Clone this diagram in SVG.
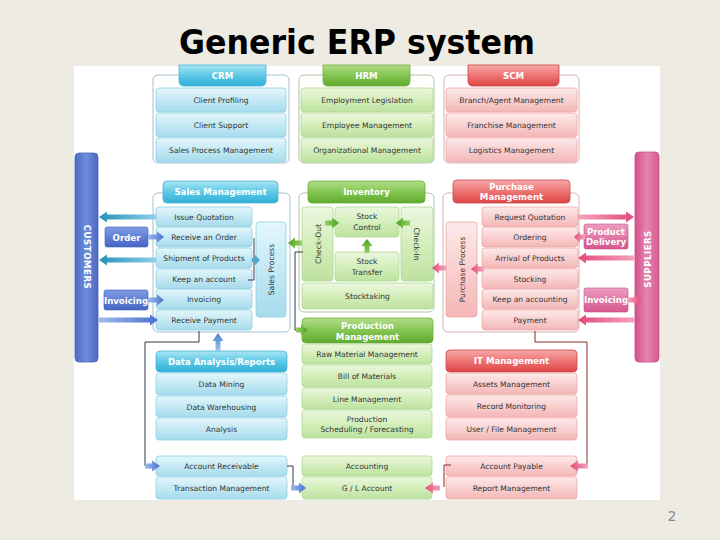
<svg xmlns="http://www.w3.org/2000/svg" width="720" height="540" viewBox="0 0 720 540">
<defs>
<linearGradient id="gbr" x1="0" y1="0" x2="0" y2="1"><stop offset="0" stop-color="#e4f6fb"/><stop offset="0.5" stop-color="#c4e9f4"/><stop offset="1" stop-color="#a6dbec"/></linearGradient>
<linearGradient id="gbt" x1="0" y1="0" x2="0" y2="1"><stop offset="0" stop-color="#a8e6f4"/><stop offset="0.5" stop-color="#5ec8e6"/><stop offset="1" stop-color="#2fb0d8"/></linearGradient>
<linearGradient id="ggr" x1="0" y1="0" x2="0" y2="1"><stop offset="0" stop-color="#ecf7df"/><stop offset="0.5" stop-color="#d4eebb"/><stop offset="1" stop-color="#bde2a0"/></linearGradient>
<linearGradient id="ggt" x1="0" y1="0" x2="0" y2="1"><stop offset="0" stop-color="#b2dd88"/><stop offset="0.5" stop-color="#84c552"/><stop offset="1" stop-color="#5eaa2c"/></linearGradient>
<linearGradient id="grr" x1="0" y1="0" x2="0" y2="1"><stop offset="0" stop-color="#fdeaea"/><stop offset="0.5" stop-color="#f9d0d0"/><stop offset="1" stop-color="#f4b6b6"/></linearGradient>
<linearGradient id="grt" x1="0" y1="0" x2="0" y2="1"><stop offset="0" stop-color="#f8a8a8"/><stop offset="0.5" stop-color="#ee7474"/><stop offset="1" stop-color="#de4444"/></linearGradient>
<linearGradient id="gcus" x1="0" y1="0" x2="1" y2="0"><stop offset="0" stop-color="#4e6cc6"/><stop offset="0.5" stop-color="#6f8edc"/><stop offset="1" stop-color="#4a68c2"/></linearGradient>
<linearGradient id="gord" x1="0" y1="0" x2="0" y2="1"><stop offset="0" stop-color="#7e9ce4"/><stop offset="1" stop-color="#4665c4"/></linearGradient>
<linearGradient id="gsup" x1="0" y1="0" x2="1" y2="0"><stop offset="0" stop-color="#d4508c"/><stop offset="0.5" stop-color="#e684b0"/><stop offset="1" stop-color="#d65a92"/></linearGradient>
<linearGradient id="gpd" x1="0" y1="0" x2="0" y2="1"><stop offset="0" stop-color="#ec9cc0"/><stop offset="1" stop-color="#d4588e"/></linearGradient>
<linearGradient id="gal" x1="0" y1="0" x2="1" y2="0"><stop offset="0" stop-color="#2392ba"/><stop offset="1" stop-color="#8fd0e6"/></linearGradient>
<linearGradient id="gar" x1="0" y1="0" x2="1" y2="0"><stop offset="0" stop-color="#9fb8ec"/><stop offset="1" stop-color="#4a6fd0"/></linearGradient>
<linearGradient id="gau" x1="0" y1="0" x2="0" y2="1"><stop offset="0" stop-color="#4a7fd0"/><stop offset="1" stop-color="#9fc4ec"/></linearGradient>
<linearGradient id="gga" x1="0" y1="0" x2="1" y2="0"><stop offset="0" stop-color="#4da224"/><stop offset="1" stop-color="#94d062"/></linearGradient>
<linearGradient id="ggar" x1="0" y1="0" x2="1" y2="0"><stop offset="0" stop-color="#94d062"/><stop offset="1" stop-color="#4da224"/></linearGradient>
<linearGradient id="ggu" x1="0" y1="0" x2="0" y2="1"><stop offset="0" stop-color="#4da224"/><stop offset="1" stop-color="#94d062"/></linearGradient>
<linearGradient id="gral" x1="0" y1="0" x2="1" y2="0"><stop offset="0" stop-color="#e24a78"/><stop offset="1" stop-color="#f4a4bc"/></linearGradient>
<linearGradient id="grar" x1="0" y1="0" x2="1" y2="0"><stop offset="0" stop-color="#f4a4bc"/><stop offset="1" stop-color="#e24a78"/></linearGradient>
</defs>
<style>
.br{fill:url(#gbr);stroke:#8fd0e4;stroke-width:0.8}
.bt{fill:url(#gbt);stroke:#4cb4d6;stroke-width:0.8}
.gr{fill:url(#ggr);stroke:#b0d994;stroke-width:0.8}
.gt{fill:url(#ggt);stroke:#6aae3a;stroke-width:0.8}
.rr{fill:url(#grr);stroke:#f0a8a8;stroke-width:0.8}
.rt{fill:url(#grt);stroke:#c84444;stroke-width:0.8}
.fb{fill:#fff;stroke:#9ab8c8;stroke-width:0.9}
.fg{fill:#fff;stroke:#a8bc9c;stroke-width:0.9}
.fr{fill:#fff;stroke:#d0a8ac;stroke-width:0.9}
text{font-family:"DejaVu Sans","Liberation Sans",sans-serif}
.t{font-size:7.6px;fill:#333;text-anchor:middle}
.tw{font-size:8.6px;fill:#fff;font-weight:bold;text-anchor:middle}
.ln{fill:none;stroke:#2e3a48;stroke-width:1}
.lr{fill:none;stroke:#8a2a2a;stroke-width:1}
</style>
<rect x="0" y="0" width="720" height="540" fill="#eeebe3"/>
<rect x="74" y="66" width="586" height="434" fill="#ffffff"/>
<text x="357" y="54" font-family="'Open Sans','Liberation Sans',sans-serif" font-size="33" font-weight="600" fill="#000" text-anchor="middle" textLength="356" lengthAdjust="spacingAndGlyphs">Generic ERP system</text>
<text x="672" y="521" font-family="'Open Sans','Liberation Sans',sans-serif" font-size="14" fill="#8a8a8a" text-anchor="middle">2</text>

<!-- side bars -->
<g id="customers">
<rect x="75" y="153" width="23" height="209" rx="4" fill="url(#gcus)" stroke="#4a64b8" stroke-width="0.8"/>
<text class="tw" transform="translate(86.5,257) rotate(90)" y="3" font-size="9" letter-spacing="0.5">CUSTOMERS</text>
</g>
<g id="suppliers">
<rect x="635" y="152" width="24" height="210" rx="4" fill="url(#gsup)" stroke="#c84c84" stroke-width="0.8"/>
<text class="tw" transform="translate(647,259) rotate(-90)" y="3.5" font-size="9.5" letter-spacing="0.5">SUPPLIERS</text>
</g>

<!-- CRM -->
<g id="crm">
<rect class="fb" x="153" y="75" width="136" height="88" rx="5"/>
<path class="bt" d="M179 65 H266 V81 Q266 86 261 86 H184 Q179 86 179 81 Z"/>
<text class="tw" x="222.5" y="79">CRM</text>
<rect class="br" x="156" y="88" width="130" height="24" rx="3"/><text class="t" x="221" y="103">Client Profiling</text>
<rect class="br" x="156" y="113" width="130" height="24" rx="3"/><text class="t" x="221" y="128">Client Support</text>
<rect class="br" x="156" y="138" width="130" height="24" rx="3"/><text class="t" x="221" y="153">Sales Process Management</text>
</g>
<!-- HRM -->
<g id="hrm">
<rect class="fg" x="299" y="75" width="135" height="88" rx="5"/>
<path class="gt" d="M323 65 H410 V81 Q410 86 405 86 H328 Q323 86 323 81 Z"/>
<text class="tw" x="366.5" y="79">HRM</text>
<rect class="gr" x="301" y="88" width="132" height="24" rx="3"/><text class="t" x="367" y="103">Employment Legislation</text>
<rect class="gr" x="301" y="113" width="132" height="24" rx="3"/><text class="t" x="367" y="128">Employee Management</text>
<rect class="gr" x="301" y="138" width="132" height="24" rx="3"/><text class="t" x="367" y="153">Organizational Management</text>
</g>
<!-- SCM -->
<g id="scm">
<rect class="fr" x="444" y="75" width="135" height="88" rx="5"/>
<path class="rt" d="M468 65 H559 V81 Q559 86 554 86 H473 Q468 86 468 81 Z"/>
<text class="tw" x="513.5" y="79">SCM</text>
<rect class="rr" x="446" y="88" width="131" height="24" rx="3"/><text class="t" x="511.5" y="103">Branch/Agent Management</text>
<rect class="rr" x="446" y="113" width="131" height="24" rx="3"/><text class="t" x="511.5" y="128">Franchise Management</text>
<rect class="rr" x="446" y="138" width="131" height="24" rx="3"/><text class="t" x="511.5" y="153">Logistics Management</text>
</g>

<!-- Sales Management -->
<g id="sales">
<rect class="fb" x="153" y="193" width="137" height="139" rx="5"/>
<rect class="bt" x="163" y="181" width="115" height="22" rx="4"/>
<text class="tw" x="220.5" y="195">Sales Management</text>
<rect class="br" x="156" y="207" width="96" height="19.5" rx="3"/><text class="t" x="204" y="219.5">Issue Quotation</text>
<rect class="br" x="156" y="227" width="96" height="20" rx="3"/><text class="t" x="204" y="240">Receive an Order</text>
<rect class="br" x="156" y="248" width="96" height="20" rx="3"/><text class="t" x="204" y="261">Shipment of Products</text>
<rect class="br" x="156" y="269" width="96" height="19.5" rx="3"/><text class="t" x="204" y="281.5">Keep an account</text>
<rect class="br" x="156" y="289" width="96" height="20" rx="3"/><text class="t" x="204" y="302">Invoicing</text>
<rect class="br" x="156" y="310" width="96" height="20" rx="3"/><text class="t" x="204" y="323">Receive Payment</text>
<rect class="br" x="256" y="222" width="30" height="95" rx="3"/>
<text class="t" transform="translate(271,269.5) rotate(-90)" y="3">Sales Process</text>
</g>
<g id="order"><rect x="105" y="227" width="43" height="20" rx="2" fill="url(#gord)" stroke="#4060b8" stroke-width="0.6"/><text class="tw" x="126.5" y="240.5">Order</text></g>
<g id="invoicing-c"><rect x="104" y="290" width="44" height="20" rx="2" fill="url(#gord)" stroke="#4060b8" stroke-width="0.6"/><text class="tw" x="126" y="303.5">Invoicing</text></g>

<!-- Inventory -->
<g id="inventory">
<rect class="fg" x="299" y="193" width="135" height="119" rx="5"/>
<rect class="gt" x="308" y="181" width="117" height="22" rx="4"/>
<text class="tw" x="366.5" y="195">Inventory</text>
<rect class="gr" x="302" y="207" width="31" height="74" rx="3"/>
<text class="t" transform="translate(317.5,244) rotate(-90)" y="3">Check-Out</text>
<rect class="gr" x="335" y="207" width="64" height="30" rx="3"/>
<text class="t" x="367" y="219">Stock</text><text class="t" x="367" y="230">Control</text>
<rect class="gr" x="335" y="252" width="64" height="29" rx="3"/>
<text class="t" x="367" y="264">Stock</text><text class="t" x="367" y="275">Transfer</text>
<rect class="gr" x="401" y="207" width="32" height="74" rx="3"/>
<text class="t" transform="translate(417,244) rotate(90)" y="3">Check-In</text>
<rect class="gr" x="302" y="283" width="131" height="26" rx="3"/>
<text class="t" x="367.5" y="299">Stocktaking</text>
</g>

<!-- Purchase Management -->
<g id="purchase">
<rect class="fr" x="443" y="193" width="136" height="139" rx="5"/>
<rect class="rt" x="453" y="180" width="117" height="23" rx="4"/>
<text class="tw" x="511.5" y="190" font-size="8.2">Purchase</text>
<text class="tw" x="511.5" y="200" font-size="8.2">Management</text>
<rect class="rr" x="446" y="222" width="31" height="95" rx="3"/>
<text class="t" transform="translate(461.5,269.5) rotate(-90)" y="3">Purchase Process</text>
<rect class="rr" x="482" y="207" width="96" height="19.5" rx="3"/><text class="t" x="530" y="219.5">Request Quotation</text>
<rect class="rr" x="482" y="227" width="96" height="20" rx="3"/><text class="t" x="530" y="240">Ordering</text>
<rect class="rr" x="482" y="248" width="96" height="20" rx="3"/><text class="t" x="530" y="261">Arrival of Products</text>
<rect class="rr" x="482" y="269" width="96" height="19.5" rx="3"/><text class="t" x="530" y="281.5">Stocking</text>
<rect class="rr" x="482" y="289" width="96" height="20" rx="3"/><text class="t" x="530" y="302">Keep an accounting</text>
<rect class="rr" x="482" y="310" width="96" height="20" rx="3"/><text class="t" x="530" y="323">Payment</text>
</g>
<g id="product-delivery"><rect x="584" y="224" width="44" height="25" rx="2" fill="url(#gpd)" stroke="#c4508a" stroke-width="0.6"/><text class="tw" x="606" y="234.5" font-size="8">Product</text><text class="tw" x="606" y="245" font-size="8">Delivery</text></g>
<g id="invoicing-s"><rect x="584" y="288" width="44" height="24" rx="2" fill="url(#gpd)" stroke="#c4508a" stroke-width="0.6"/><text class="tw" x="606" y="303" font-size="8">Invoicing</text></g>

<!-- Data Analysis -->
<g id="data-analysis">
<rect class="bt" x="156" y="351" width="131" height="21" rx="4"/>
<text class="tw" x="221.5" y="364.5">Data Analysis/Reports</text>
<rect class="br" x="156" y="373" width="131" height="22" rx="3"/><text class="t" x="221.5" y="387">Data Mining</text>
<rect class="br" x="156" y="396" width="131" height="21" rx="3"/><text class="t" x="221.5" y="409.5">Data Warehousing</text>
<rect class="br" x="156" y="418" width="131" height="22" rx="3"/><text class="t" x="221.5" y="432">Analysis</text>
</g>
<g id="receivable">
<rect class="br" x="156" y="456" width="131" height="20" rx="3"/><text class="t" x="221.5" y="469">Account Receivable</text>
<rect class="br" x="156" y="477" width="131" height="22" rx="3"/><text class="t" x="221.5" y="491">Transaction Management</text>
</g>

<!-- Production -->
<g id="production">
<rect class="gt" x="302" y="318" width="131" height="25" rx="4"/>
<text class="tw" x="367.5" y="329" font-size="8.6">Production</text>
<text class="tw" x="367.5" y="339.5" font-size="8.6">Management</text>
<rect class="gr" x="302" y="344" width="130" height="20" rx="3"/><text class="t" x="367" y="357">Raw Material Management</text>
<rect class="gr" x="302" y="365" width="130" height="22" rx="3"/><text class="t" x="367" y="379">Bill of Materials</text>
<rect class="gr" x="302" y="388" width="130" height="21" rx="3"/><text class="t" x="367" y="401.5">Line Management</text>
<rect class="gr" x="302" y="410" width="130" height="28" rx="3"/>
<text class="t" x="367" y="421.5">Production</text><text class="t" x="367" y="432">Scheduling / Forecasting</text>
</g>
<g id="accounting">
<rect class="gr" x="302" y="456" width="130" height="20" rx="3"/><text class="t" x="367" y="469">Accounting</text>
<rect class="gr" x="302" y="477" width="130" height="22" rx="3"/><text class="t" x="367" y="491">G / L Account</text>
</g>

<!-- IT -->
<g id="it">
<rect class="rt" x="446" y="350" width="131" height="22" rx="4"/>
<text class="tw" x="511.5" y="364">IT Management</text>
<rect class="rr" x="446" y="373" width="131" height="21" rx="3"/><text class="t" x="511.5" y="386.5">Assets Management</text>
<rect class="rr" x="446" y="395" width="131" height="22" rx="3"/><text class="t" x="511.5" y="409">Record Monitoring</text>
<rect class="rr" x="446" y="418" width="131" height="22" rx="3"/><text class="t" x="511.5" y="432">User / File Management</text>
</g>
<g id="payable">
<rect class="rr" x="446" y="456" width="131" height="20" rx="3"/><text class="t" x="511.5" y="469">Account Payable</text>
<rect class="rr" x="446" y="477" width="131" height="22" rx="3"/><text class="t" x="511.5" y="491">Report Management</text>
</g>

<!-- connectors -->
<g id="connectors">
<polyline class="ln" points="248,280 254,280 254,238"/>
<polyline class="ln" points="199,331 199,342 145,342 145,466 150,466"/>
<polyline class="ln" points="287,466 293,466 293,488"/>
<polyline class="ln" points="303,252 295,252 295,330 298,330"/>
<polyline class="lr" points="535,331 535,342 587,342 587,466 582,466"/>
<polyline class="lr" points="451,465 444,465 444,487"/>

<path fill="url(#gal)" d="M156 214.5 H107 V211.5 L99 217 L107 222.5 V219.5 H156 Z"/>
<path fill="url(#gal)" d="M156 257.5 H107 V254.5 L99 260 L107 265.5 V262.5 H156 Z"/>
<path fill="url(#gar)" d="M148 234.5 H157 V231.5 L164 237 L157 242.5 V239.5 H148 Z"/>
<path fill="url(#gar)" d="M148 297.5 H157 V294.5 L164 300 L157 305.5 V302.5 H148 Z"/>
<path fill="#4aa8d0" d="M252 258 H255 V255 L260 260 L255 265 V262 H252 Z"/>
<path fill="url(#gar)" d="M99 317.5 H150 V314.5 L158 320 L150 325.5 V322.5 H99 Z"/>
<path fill="url(#gau)" d="M215.5 351 V341 H212.5 L218 333 L223.5 341 H220.5 V351 Z"/>
<path fill="url(#gar)" d="M145 463.5 H152 V460.5 L160 466 L152 471.5 V468.5 H145 Z"/>
<path fill="url(#gar)" d="M291 485.5 H299 V482.5 L306 488 L299 493.5 V490.5 H291 Z"/>

<path fill="url(#gga)" d="M302 240.5 H295 V237.5 L288 243 L295 248.5 V245.5 H302 Z"/>
<path fill="url(#ggar)" d="M325 220.5 H332 V217.5 L339 223 L332 228.5 V225.5 H325 Z"/>
<path fill="url(#gga)" d="M410 220.5 H403 V217.5 L396 223 L403 228.5 V225.5 H410 Z"/>
<path fill="url(#ggu)" d="M364.5 253 V246 H361.5 L367 239 L372.5 246 H369.5 V253 Z"/>
<path fill="url(#ggar)" d="M296 327.5 H301 V324.5 L308 330 L301 335.5 V332.5 H296 Z"/>

<path fill="url(#gral)" d="M446 265.5 H439 V262.5 L432 268 L439 273.5 V270.5 H446 Z"/>
<path fill="url(#gral)" d="M484 266.5 H478 V263.5 L471 269 L478 274.5 V271.5 H484 Z"/>
<path fill="url(#grar)" d="M578 214.5 H626 V211.5 L634 217 L626 222.5 V219.5 H578 Z"/>
<path fill="url(#gral)" d="M585 234.5 H580 V231.5 L574 237 L580 242.5 V239.5 H585 Z"/>
<path fill="url(#gral)" d="M635 255.5 H586 V252.5 L578 258 L586 263.5 V260.5 H635 Z"/>
<path fill="url(#grar)" d="M628 297.5 H634 V294.5 L641 300 L634 305.5 V302.5 H628 Z"/>
<path fill="url(#gral)" d="M635 317.5 H586 V314.5 L578 320 L586 325.5 V322.5 H635 Z"/>
<path fill="url(#gral)" d="M588 463.5 H578 V460.5 L570 466 L578 471.5 V468.5 H588 Z"/>
<path fill="url(#gral)" d="M440 485.5 H433 V482.5 L425 488 L433 493.5 V490.5 H440 Z"/>
</g>
</svg>
